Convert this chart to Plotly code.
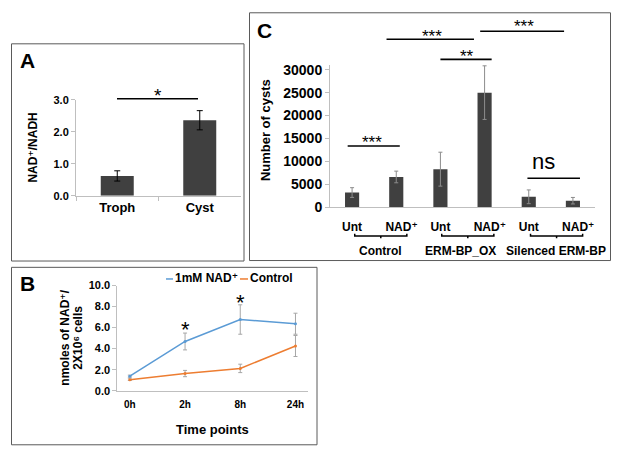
import plotly.graph_objects as go

# Panel A - NAD+/NADH ratio
a_groups = ["Troph", "Cyst"]
a_ratio = [0.62, 2.36]
a_err = [0.16, 0.30]

# Panel B - NAD+ uptake over time
b_times = ["0h", "2h", "8h", "24h"]
b_nad = [1.38, 4.68, 6.77, 6.37]
b_nad_err = [0.1, 0.8, 1.4, 1.0]
b_ctrl = [1.05, 1.63, 2.12, 4.25]
b_ctrl_err = [0.08, 0.3, 0.4, 1.0]

# Panel C - cyst counts
c_ticks = ["Unt", "NAD⁺", "Unt", "NAD⁺", "Unt", "NAD⁺"]
c_cysts = [3200, 6600, 8300, 25000, 2270, 1420]
c_err = [1060, 1270, 3700, 5850, 1500, 710]
c_groups = ["Control", "ERM-BP_OX", "Silenced ERM-BP"]

W, H = 617, 462
FONT = "Liberation Sans, Arial, DejaVu Sans, sans-serif"
AXIS_GREY = "#bfbfbf"
BAR = "#404040"
BLUE = "#5b9bd5"
ORANGE = "#ed7d31"


def px(x):
    return x / W


def py(y):
    return 1 - y / H


def bold(size):
    return dict(family=FONT, size=size, color="black", weight="bold")


fig = go.Figure()

# A
fig.add_trace(go.Bar(
    x=a_groups, y=a_ratio, width=0.4, marker=dict(color=BAR, line=dict(width=0)),
    error_y=dict(type="data", array=a_err, color="black", thickness=1, width=3),
    xaxis="x", yaxis="y", showlegend=False))

# B
fig.add_trace(go.Scatter(
    x=b_times, y=b_nad, mode="lines+markers", line=dict(color=BLUE, width=1.5),
    marker=dict(size=3, color=BLUE),
    error_y=dict(type="data", array=b_nad_err, color="#a6a6a6", thickness=1, width=2),
    xaxis="x2", yaxis="y2", showlegend=False))
fig.add_trace(go.Scatter(
    x=b_times, y=b_ctrl, mode="lines+markers", line=dict(color=ORANGE, width=1.5),
    marker=dict(size=3, color=ORANGE),
    error_y=dict(type="data", array=b_ctrl_err, color="#a6a6a6", thickness=1, width=2),
    xaxis="x2", yaxis="y2", showlegend=False))

# C
c_pos = list(range(len(c_cysts)))
fig.add_trace(go.Bar(
    x=c_pos, y=c_cysts, width=0.32, marker=dict(color=BAR, line=dict(width=0)),
    error_y=dict(type="data", array=c_err, color="#8c8c8c", thickness=1, width=2),
    xaxis="x3", yaxis="y3", showlegend=False))

axis_common = dict(showline=True, linecolor=AXIS_GREY, linewidth=1, showgrid=False,
                   zeroline=False, fixedrange=True)

fig.update_layout(
    width=W, height=H, margin=dict(l=0, r=0, t=0, b=0),
    paper_bgcolor="white", plot_bgcolor="white", showlegend=False,
    font=dict(family=FONT, color="black"),
    xaxis=dict(domain=[px(76), px(241)], anchor="y", type="category",
               ticks="outside", tickson="boundaries", ticklen=4, tickcolor=AXIS_GREY,
               tickfont=bold(13), **axis_common),
    yaxis=dict(domain=[py(195.7), py(96.7)], anchor="x", range=[0, 3], dtick=1,
               tickformat=".1f", ticks="outside", ticklen=4, tickcolor=AXIS_GREY,
               tickfont=bold(11), **axis_common),
    xaxis2=dict(domain=[px(117.3), px(308)], anchor="y2", type="category",
                ticks="", tickfont=bold(10), ticklabelstandoff=4, **axis_common),
    yaxis2=dict(domain=[py(396.7), py(288.3)], anchor="x2", range=[0, 10], dtick=2,
                tickformat=".1f", ticks="outside", ticklen=4, tickcolor=AXIS_GREY,
                tickfont=bold(11), **axis_common),
    xaxis3=dict(domain=[px(330), px(595)], anchor="y3", range=[-0.5, 5.5],
                tickvals=[p + (0.12 if i % 2 else 0) for i, p in enumerate(c_pos)],
                ticktext=c_ticks, ticks="", tickfont=bold(12), ticklabelstandoff=8,
                **axis_common),
    yaxis3=dict(domain=[py(207.5), py(60.5)], anchor="x3", range=[0, 31100],
                tickvals=[0, 5000, 10000, 15000, 20000, 25000, 30000], tickformat="d",
                ticks="outside", ticklen=4, tickcolor=AXIS_GREY,
                tickfont=bold(14), **axis_common),
)

shapes = []
# panel frames
for x0, y0, x1, y1 in [(11.5, 39, 244, 263), (249.5, 7, 610.5, 262.5), (11.5, 269.5, 317, 452.5)]:
    shapes.append(dict(type="rect", xref="paper", yref="paper",
                       x0=px(x0), x1=px(x1), y0=py(y0), y1=py(y1),
                       line=dict(color="#5a5a5a", width=1)))


def sig_line(xref, x0, x1, y, color="black", width=1.6):
    shapes.append(dict(type="line", xref=xref, yref="paper", x0=x0, x1=x1,
                       y0=py(y), y1=py(y), line=dict(color=color, width=width)))


sig_line("paper", px(117), px(198), 95.7)
sig_line("x3", -0.1, 1.08, 144.3)
sig_line("x3", 0.78, 2.76, 34.3)
sig_line("x3", 2.0, 3.16, 55)
sig_line("x3", 2.9, 4.8, 26)
sig_line("x3", 3.97, 5.16, 177.7)

# legend keys of B
sig_line("paper", px(166), px(173), 281.5, BLUE, 1.5)
sig_line("paper", px(240), px(248), 281.5, ORANGE, 1.5)

# brackets under the group labels
for x0, x1 in [(0.06, 1.24), (2.03, 3.21), (4.04, 5.22)]:
    yb, yu, yd = py(237.3), py(234.8), py(239.6)
    xm = (x0 + x1) / 2
    path = (f"M{x0},{yu} L{x0},{yb} L{x1},{yb} L{x1},{yu} "
            f"M{xm},{yb} L{xm},{yd}")
    shapes.append(dict(type="path", xref="x3", yref="paper", path=path,
                       line=dict(color="black", width=1.5)))

fig.update_layout(shapes=shapes)

ann = []


def text(x, y, s, size, xref="paper", yref="paper", weight="bold", angle=0, **kw):
    ann.append(dict(x=x, y=y, xref=xref, yref=yref, text=s, showarrow=False,
                    textangle=angle, xanchor=kw.pop("xanchor", "center"),
                    yanchor=kw.pop("yanchor", "middle"),
                    font=dict(family=FONT, size=size, color="black", weight=weight), **kw))


# panel letters
text(px(27), py(56), "A", 21)
text(px(27), py(286), "B", 21)
text(px(264), py(25.5), "C", 21)

# axis titles
text(px(33), py(146), "NAD⁺/NADH", 12, angle=-90)
text(px(65), py(342), "nmoles of NAD⁺/", 12, angle=-90)
text(px(78), py(342), "2X10⁶ cells", 12, angle=-90)
text(px(212), py(437), "Time points", 13)
text(px(265), py(128), "Number of cysts", 13, angle=-90)

# significance marks
text(px(158), py(92), "*", 19, weight="normal")
text("2h", py(334), "*", 22, xref="x2", weight="normal")
text("8h", py(306), "*", 22, xref="x2", weight="normal")
text(0.46, py(141), "***", 17, xref="x3", weight="normal")
text(1.82, py(31), "***", 17, xref="x3", weight="normal")
text(2.6, py(52), "**", 17, xref="x3", weight="normal")
text(3.89, py(21), "***", 17, xref="x3", weight="normal")
text(4.34, py(160), "ns", 22, xref="x3", weight="normal")

# group labels
for x, g in zip([0.65, 2.45, 4.62], c_groups):
    text(x, py(252.5), g, 12, xref="x3")

# legend labels of B
text(px(173), py(281), "1mM NAD⁺", 12, xanchor="left")
text(px(248), py(281), "Control", 12, xanchor="left")

fig.update_layout(annotations=ann)

fig.write_html("out.html", config={"displayModeBar": False},
               post_script="document.body.style.margin='0';")
